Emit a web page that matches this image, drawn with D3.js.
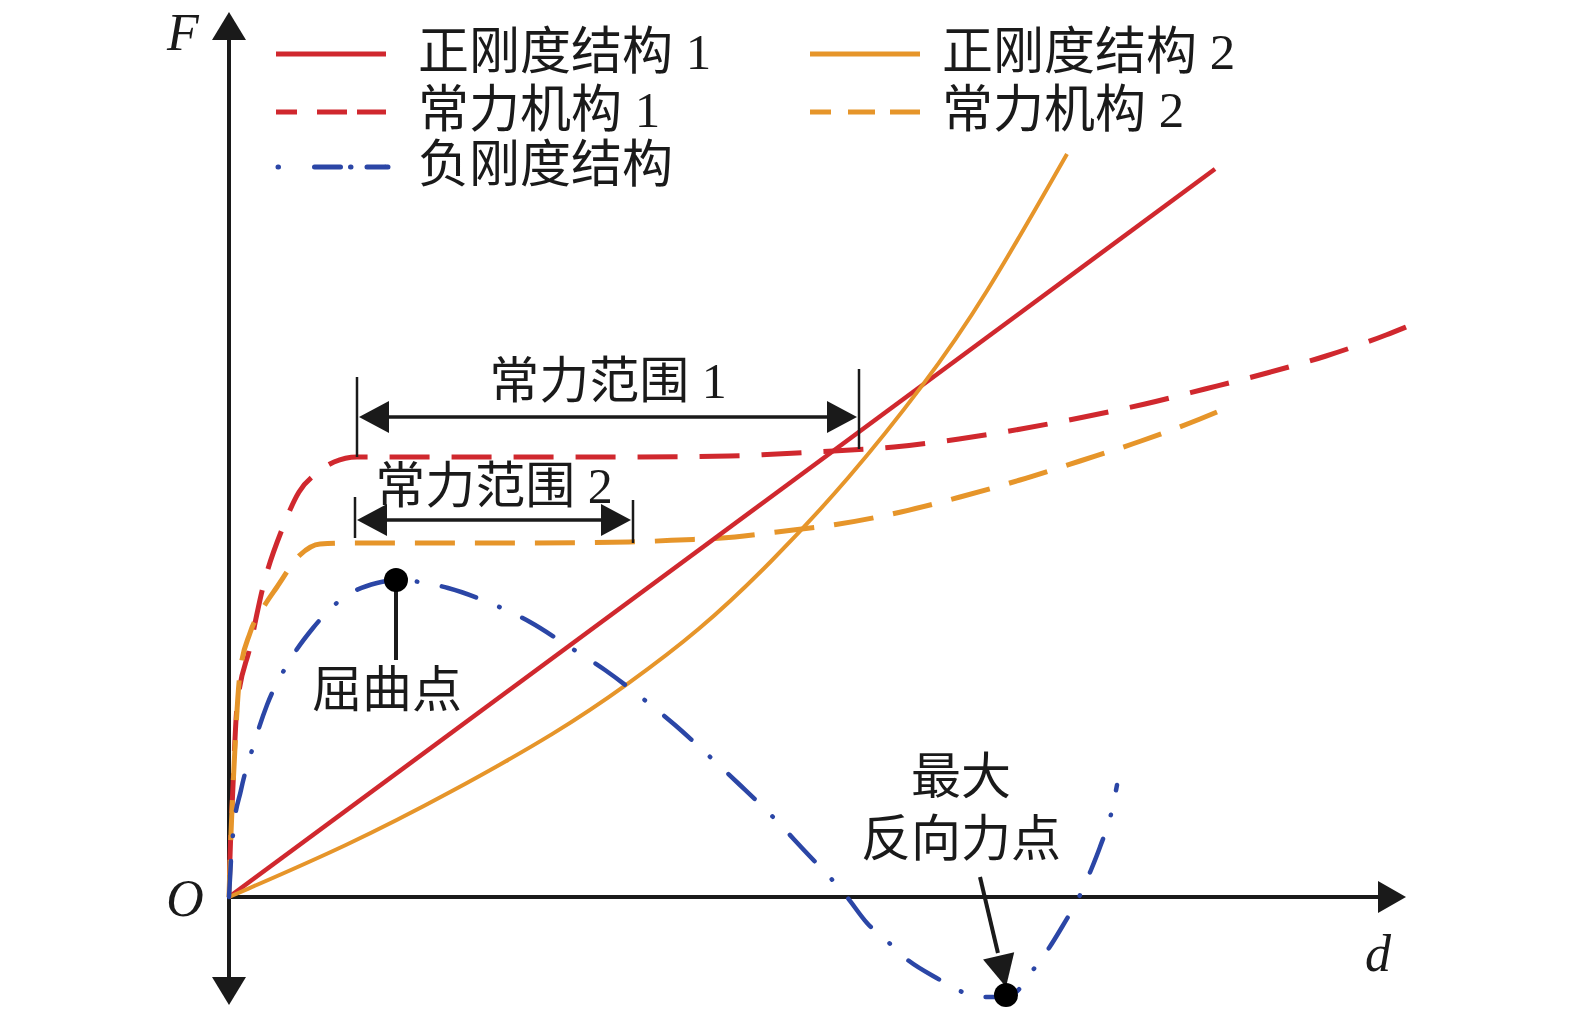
<!DOCTYPE html>
<html>
<head>
<meta charset="utf-8">
<script src="https://cdn.jsdelivr.net/npm/d3@7"></script>
<style>
  html, body { margin: 0; background: #fff; }
  svg { display: block; }
</style>
</head>
<body>
<script>
const W = 1575, H = 1012;

// --- curve data: displacement d vs force F (schematic units) ---
const POS1_D = [0, 98.6];
const POS1_F = [0, 72.8];

const POS2_D = [0, 12, 22.1, 33.1, 39.8, 47, 54.1, 62, 69.5, 75.4, 83.8];
const POS2_F = [0, 5.2, 10.4, 16.6, 21.2, 26.6, 33.3, 41.8, 51.2, 59.6, 74.3];

const CF1_D = [0, 0.1, 0.35, 0.8, 2.1, 3.4, 5.4, 7, 8.8, 10.5, 12.8, 25, 40, 50, 58.5, 66.5, 73, 79.2, 85.5, 91.6, 97.6, 103.8, 109.7, 115.7, 117.7];
const CF1_F = [0, 4, 10, 19, 25, 31, 37, 40.5, 42.4, 43.5, 44, 44, 44, 44.1, 44.5, 45, 45.8, 46.8, 48, 49.3, 50.8, 52.4, 54.1, 56.2, 57];

const CF2_D = [0, 0.15, 0.5, 1.1, 2.1, 3.4, 4.8, 7.1, 9.1, 12, 20, 30, 40, 45, 50.6, 54.8, 60.7, 67.2, 73.1, 79.1, 85.1, 91.2, 97.1, 98.8];
const CF2_F = [0, 5, 13, 22.4, 26.4, 28.9, 31, 34.2, 35.3, 35.4, 35.4, 35.4, 35.5, 35.7, 36, 36.5, 37.25, 38.5, 40, 41.7, 43.6, 45.6, 47.8, 48.5];

const NEG_D = [0, 0.2, 0.4, 1.2, 2.4, 3.8, 5.8, 8.4, 11.4, 14.8, 16.7, 19.1, 21.9, 26.1, 30.1, 33.9, 37.6, 41.3, 44.6, 47.9, 51.1, 54.3, 57.3, 61.8, 63.8, 65.8, 67.5, 71.1, 73.1, 75.4, 77.7, 78.6, 80.4, 82.0, 83.3, 85.2, 86.2, 87.1, 88.3, 88.8];
const NEG_F = [0, 3.7, 6.3, 10.7, 15.0, 19.2, 23.2, 26.9, 29.9, 31.4, 31.7, 31.5, 30.9, 29.4, 27.5, 25.1, 22.7, 19.9, 17.2, 14.2, 11.2, 8.1, 4.9, 0, -2.6, -4.4, -6.0, -8.3, -9.4, -10.0, -10.0, -9.6, -7.3, -5.1, -3.0, 0.4, 2.7, 5.0, 8.7, 11.2];

// key points
const BUCKLE = [16.7, 31.7];
const REVERSE = [77.7, -10.0];

// constant-force ranges: [d start, d end, F level of arrow]
const RANGE1 = [12.8, 63.0, 48.0];
const RANGE2 = [12.6, 40.4, 37.7];

const LEGEND_LABELS = ['正刚度结构 1', '常力机构 1', '负刚度结构', '正刚度结构 2', '常力机构 2'];
const ANNOT = { r1: '常力范围 1', r2: '常力范围 2', buckle: '屈曲点', rev1: '最大', rev2: '反向力点' };

const RED = '#d0282e', ORANGE = '#e6952a', BLUE = '#2b46a6', INK = '#1a1a1a';
const CJK = "'Liberation Serif', 'Noto Sans CJK SC', serif";
const SERIF = "'Liberation Serif', 'DejaVu Serif', serif";

const x = d3.scaleLinear().domain([0, 100]).range([229, 1229]);
const y = d3.scaleLinear().domain([0, 100]).range([897, -103]);

const svg = d3.select('body').append('svg')
  .attr('width', W).attr('height', H)
  .attr('viewBox', `0 0 ${W} ${H}`);

const zip = (ds, fs) => ds.map((d, i) => [d, fs[i]]);
const line = d3.line().x(p => x(p[0])).y(p => y(p[1])).curve(d3.curveMonotoneX);
const smooth = d3.line().x(p => x(p[0])).y(p => y(p[1])).curve(d3.curveBasis);

// --- axes with arrowheads ---
const ax = svg.append('g').attr('stroke', INK).attr('stroke-width', 4);
ax.append('line').attr('x1', x(0)).attr('x2', x(0)).attr('y1', 985).attr('y2', 35);
ax.append('line').attr('x1', x(0)).attr('x2', 1385).attr('y1', y(0)).attr('y2', y(0));

function tri(tip, dir, len, half) {
  // dir: unit vector of arrow direction
  const [tx, ty] = tip, [ux, uy] = dir;
  const bx = tx - ux * len, by = ty - uy * len;
  return [[tx, ty], [bx - uy * half, by + ux * half], [bx + uy * half, by - ux * half]];
}
const poly = pts => 'M' + pts.map(p => p.join(',')).join('L') + 'Z';

svg.append('path').attr('d', poly(tri([x(0), 12], [0, -1], 28, 17))).attr('fill', INK);
svg.append('path').attr('d', poly(tri([x(0), 1005], [0, 1], 28, 17))).attr('fill', INK);
svg.append('path').attr('d', poly(tri([1406, y(0)], [1, 0], 28, 16))).attr('fill', INK);

svg.append('text').attr('x', 183).attr('y', 32).text('F');
svg.append('text').attr('x', 185).attr('y', 898).text('O');
svg.append('text').attr('x', 1378).attr('y', 953).text('d');
svg.selectAll('text')
  .attr('font-family', SERIF).attr('font-style', 'italic').attr('font-size', 52)
  .attr('text-anchor', 'middle').attr('dominant-baseline', 'central').attr('fill', INK);

// dashed path whose pattern finishes on a dash at the far end
function endOnDash(path, dash, period) {
  const L = path.node().getTotalLength();
  path.attr('stroke-dashoffset', dash - (L % period));
}

// --- curves ---
const curves = svg.append('g').attr('fill', 'none');
const cf1 = curves.append('path').attr('d', line(zip(CF1_D, CF1_F)))
  .attr('stroke', RED).attr('stroke-width', 5).attr('stroke-dasharray', '40,22');
endOnDash(cf1, 40, 62);
const cf2 = curves.append('path').attr('d', line(zip(CF2_D, CF2_F)))
  .attr('stroke', ORANGE).attr('stroke-width', 5).attr('stroke-dasharray', '40,20');
endOnDash(cf2, 40, 60);
curves.append('path').attr('d', line(zip(POS1_D, POS1_F)))
  .attr('stroke', RED).attr('stroke-width', 4.5);
curves.append('path').attr('d', smooth(zip(POS2_D, POS2_F)))
  .attr('stroke', ORANGE).attr('stroke-width', 4);
curves.append('path').attr('d', line(zip(NEG_D, NEG_F)))
  .attr('stroke', BLUE).attr('stroke-width', 4.5)
  .attr('stroke-linecap', 'round').attr('stroke-dasharray', '36,25,0.5,25');

// --- constant force range brackets ---
function bracket(r, tickL, tickR, label, labelY) {
  const g = svg.append('g');
  const [d0, d1, f] = r;
  const yA = y(f), xa = x(d0), xb = x(d1);
  g.append('line').attr('x1', xa).attr('x2', xa).attr('y1', yA - tickL[0]).attr('y2', yA + tickL[1])
    .attr('stroke', INK).attr('stroke-width', 2.5);
  g.append('line').attr('x1', xb).attr('x2', xb).attr('y1', yA - tickR[0]).attr('y2', yA + tickR[1])
    .attr('stroke', INK).attr('stroke-width', 2.5);
  g.append('line').attr('x1', xa + 20).attr('x2', xb - 20).attr('y1', yA).attr('y2', yA)
    .attr('stroke', INK).attr('stroke-width', 3.5);
  g.append('path').attr('d', poly(tri([xa + 2, yA], [-1, 0], 30, 16))).attr('fill', INK);
  g.append('path').attr('d', poly(tri([xb - 2, yA], [1, 0], 30, 16))).attr('fill', INK);
  g.append('text').attr('x', (xa + xb) / 2).attr('y', labelY).text(label)
    .attr('font-family', CJK).attr('font-size', 50).attr('fill', INK)
    .attr('text-anchor', 'middle').attr('dominant-baseline', 'central');
}
bracket(RANGE1, [40, 40], [48, 32], ANNOT.r1, 381);
bracket(RANGE2, [23, 18], [20, 23], ANNOT.r2, 486);

// --- buckling point ---
const bx = x(BUCKLE[0]), by = y(BUCKLE[1]);
svg.append('line').attr('x1', bx).attr('x2', bx).attr('y1', by).attr('y2', 660)
  .attr('stroke', INK).attr('stroke-width', 4);
svg.append('circle').attr('cx', bx).attr('cy', by).attr('r', 12).attr('fill', '#000');
svg.append('text').attr('x', 387).attr('y', 690).text(ANNOT.buckle)
  .attr('font-family', CJK).attr('font-size', 50).attr('fill', INK)
  .attr('text-anchor', 'middle').attr('dominant-baseline', 'central');

// --- max reverse force point ---
const rx = x(REVERSE[0]), ry = y(REVERSE[1]);
const ang = Math.atan2(ry - 10 - 877, rx - 980);
const ux = Math.cos(ang), uy = Math.sin(ang);
svg.append('line').attr('x1', 980).attr('y1', 877).attr('x2', rx - ux * 35).attr('y2', ry - 10 - uy * 35)
  .attr('stroke', INK).attr('stroke-width', 4);
svg.append('path').attr('d', poly(tri([rx, ry - 10], [ux, uy], 32, 16))).attr('fill', INK);
svg.append('circle').attr('cx', rx).attr('cy', ry - 2).attr('r', 12).attr('fill', '#000');
svg.append('text').attr('x', 961).attr('y', 777).text(ANNOT.rev1)
  .attr('font-family', CJK).attr('font-size', 50).attr('fill', INK)
  .attr('text-anchor', 'middle').attr('dominant-baseline', 'central');
svg.append('text').attr('x', 961).attr('y', 839).text(ANNOT.rev2)
  .attr('font-family', CJK).attr('font-size', 50).attr('fill', INK)
  .attr('text-anchor', 'middle').attr('dominant-baseline', 'central');

// --- legend ---
const legendItems = [
  { label: LEGEND_LABELS[0], color: RED, dash: null, x0: 276, tx: 418, y: 54 },
  { label: LEGEND_LABELS[1], color: RED, dash: '21,20,30,10,31', x0: 276, tx: 418, y: 112 },
  { label: LEGEND_LABELS[2], color: BLUE, dash: '0.5,36,26,10,0.5,16,18', x0: 278, tx: 418, y: 167, cap: 'round' },
  { label: LEGEND_LABELS[3], color: ORANGE, dash: null, x0: 810, tx: 942, y: 54 },
  { label: LEGEND_LABELS[4], color: ORANGE, dash: '21,17,27,15,30', x0: 810, tx: 942, y: 112 },
];
const lg = svg.append('g');
legendItems.forEach(it => {
  lg.append('line').attr('x1', it.x0).attr('x2', it.x0 + 110).attr('y1', it.y).attr('y2', it.y)
    .attr('stroke', it.color).attr('stroke-width', 5)
    .attr('stroke-dasharray', it.dash)
    .attr('stroke-linecap', it.cap || 'butt');
  lg.append('text').attr('x', it.tx).attr('y', it.y - 2).text(it.label)
    .attr('font-family', CJK).attr('font-size', 51).attr('fill', INK)
    .attr('dominant-baseline', 'central');
});
</script>
</body>
</html>
